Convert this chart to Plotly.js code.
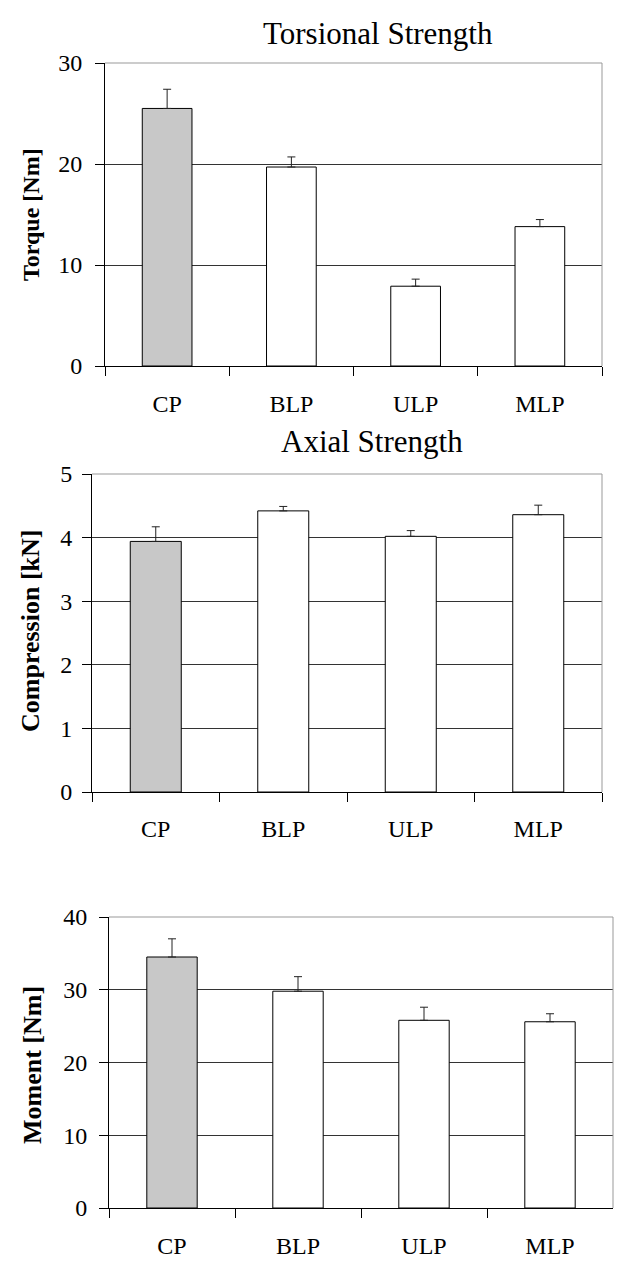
<!DOCTYPE html>
<html>
<head>
<meta charset="utf-8">
<script src="https://cdn.plot.ly/plotly-3.0.1.min.js"></script>
<style>html,body{margin:0;padding:0;background:#fff;}#chart{width:629px;height:1281px;}</style>
</head>
<body>
<div id="chart"></div>
<script>
const categories = ["CP", "BLP", "ULP", "MLP"];

const torqueValues = [25.5, 19.7, 7.9, 13.8];
const torqueErrors = [1.9, 1.0, 0.7, 0.7];

const compressionValues = [3.94, 4.42, 4.02, 4.36];
const compressionErrors = [0.23, 0.07, 0.09, 0.15];

const momentValues = [34.5, 29.8, 25.8, 25.6];
const momentErrors = [2.5, 2.0, 1.8, 1.1];

const barColors = ["#c8c8c8", "#ffffff", "#ffffff", "#ffffff"];

const torqueTicks = [0, 10, 20, 30];
const compressionTicks = [0, 1, 2, 3, 4, 5];
const momentTicks = [0, 10, 20, 30, 40];

const FONT = "Liberation Serif, Times New Roman, serif";

function barTrace(vals, errs, xa, ya) {
  return {
    type: "bar",
    x: categories,
    y: vals,
    xaxis: xa,
    yaxis: ya,
    width: 0.4,
    marker: { color: barColors, line: { color: "#000", width: 1 } },
    error_y: {
      type: "data",
      symmetric: false,
      array: errs,
      arrayminus: errs.map(() => 0),
      color: "#222",
      thickness: 1,
      width: 4
    },
    showlegend: false,
    hoverinfo: "x+y"
  };
}

const data = [
  barTrace(torqueValues, torqueErrors, "x", "y"),
  barTrace(compressionValues, compressionErrors, "x2", "y2"),
  barTrace(momentValues, momentErrors, "x3", "y3")
];

function xAxis(domain, anchor, standoff) {
  return {
    domain: domain,
    anchor: anchor,
    type: "category",
    range: [-0.5, 3.5],
    tickson: "boundaries",
    ticks: "outside",
    ticklen: 9,
    tickcolor: "#000",
    tickwidth: 1,
    showline: true,
    linecolor: "#000",
    linewidth: 1,
    showgrid: false,
    zeroline: false,
    ticklabelstandoff: standoff,
    tickfont: { family: FONT, size: 24, color: "#000" },
    fixedrange: true
  };
}

function yAxis(domain, anchor, range, ticks, standoff) {
  return {
    domain: domain,
    anchor: anchor,
    range: range,
    tickvals: ticks,
    ticktext: ticks.map(String),
    ticks: "outside",
    ticklen: 9,
    tickcolor: "#000",
    tickwidth: 1,
    showline: true,
    linecolor: "#000",
    linewidth: 1,
    showgrid: true,
    gridcolor: "#333",
    gridwidth: 1,
    zeroline: false,
    ticklabelstandoff: standoff,
    tickfont: { family: FONT, size: 24, color: "#000" },
    fixedrange: true
  };
}

function H(px) { return 1 - px / 1281; }
function W(px) { return px / 629; }

function borderShapes(xr, yr) {
  return [
    { type: "line", xref: xr + " domain", yref: yr + " domain", x0: 0, x1: 1, y0: 1, y1: 1, line: { color: "#999", width: 1 }, layer: "above" },
    { type: "line", xref: xr + " domain", yref: yr + " domain", x0: 1, x1: 1, y0: 0, y1: 1, line: { color: "#999", width: 1 }, layer: "above" }
  ];
}

const layout = {
  width: 629,
  height: 1281,
  margin: { l: 0, r: 0, t: 0, b: 0 },
  paper_bgcolor: "#fff",
  plot_bgcolor: "#fff",
  font: { family: FONT, color: "#000" },
  xaxis: xAxis([W(105), W(602)], "y", 16),
  yaxis: yAxis([H(366), H(63)], "x", [0, 30], torqueTicks, 8),
  xaxis2: xAxis([W(92), W(602)], "y2", 15),
  yaxis2: yAxis([H(792), H(474)], "x2", [0, 5], compressionTicks, 5),
  xaxis3: xAxis([W(109), W(613)], "y3", 16),
  yaxis3: yAxis([H(1208), H(917)], "x3", [0, 40], momentTicks, 7),
  shapes: [].concat(borderShapes("x", "y"), borderShapes("x2", "y2"), borderShapes("x3", "y3")),
  annotations: [
    { text: "Torsional Strength", xref: "paper", yref: "paper", x: W(378), y: H(33), xanchor: "center", yanchor: "middle", showarrow: false, font: { family: FONT, size: 31, color: "#000" } },
    { text: "Axial Strength", xref: "paper", yref: "paper", x: W(372), y: H(442), xanchor: "center", yanchor: "middle", showarrow: false, font: { family: FONT, size: 31, color: "#000" } },
    { text: "<b>Torque [Nm]</b>", xref: "paper", yref: "paper", x: W(31), y: H(215), xanchor: "center", yanchor: "middle", textangle: -90, showarrow: false, font: { family: FONT, size: 24, color: "#000" } },
    { text: "<b>Compression [kN]</b>", xref: "paper", yref: "paper", x: W(30), y: H(631), xanchor: "center", yanchor: "middle", textangle: -90, showarrow: false, font: { family: FONT, size: 26, color: "#000" } },
    { text: "<b>Moment [Nm]</b>", xref: "paper", yref: "paper", x: W(32), y: H(1065), xanchor: "center", yanchor: "middle", textangle: -90, showarrow: false, font: { family: FONT, size: 26, color: "#000" } }
  ]
};

Plotly.newPlot("chart", data, layout, { displayModeBar: false, staticPlot: true });
</script>
</body>
</html>
